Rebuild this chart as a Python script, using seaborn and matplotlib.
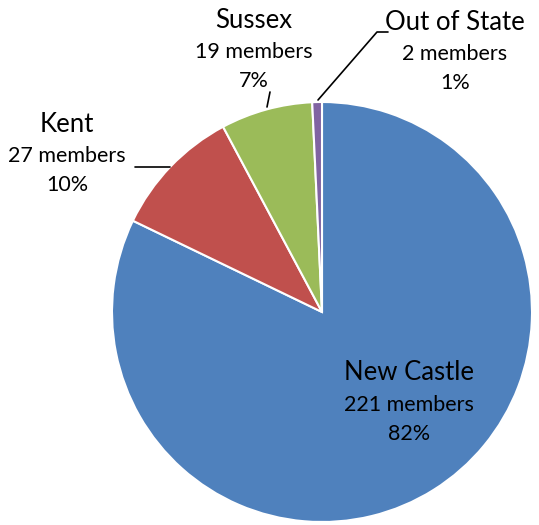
import matplotlib
matplotlib.use('Agg')
import matplotlib.pyplot as plt
import seaborn as sns

# data
regions = ['New Castle', 'Kent', 'Sussex', 'Out of State']
members = [221, 27, 19, 2]
percents = ['82%', '10%', '7%', '1%']
colors = ['#4F81BD', '#C0504D', '#9BBB59', '#8064A2']

W, H = 539, 525


def main():
    sns.set_theme(style='white')
    plt.rcParams['font.family'] = ['Lato', 'DejaVu Sans']

    fig = plt.figure(figsize=(W / 100, H / 100), dpi=100)
    ax = fig.add_axes([0, 0, 1, 1])

    # pie in pixel coordinates (y flipped so top of image is H)
    cx, cy, r = 322, H - 312, 210
    ax.pie(members, colors=colors, startangle=90, counterclock=False,
           center=(cx, cy), radius=r, frame=True,
           wedgeprops=dict(edgecolor='white', linewidth=1.5))
    ax.set_xlim(0, W)
    ax.set_ylim(0, H)
    ax.set_aspect('equal')
    ax.axis('off')

    # label positions: name center (pixels from top-left)
    label_pos = {
        'New Castle': (409, 373),
        'Kent': (67, 124),
        'Sussex': (254, 20),
        'Out of State': (455, 22),
    }
    for name, n, pct in zip(regions, members, percents):
        x, y = label_pos[name]
        ax.text(x, H - y, name, fontsize=18.5, ha='center', va='center',
                color='black')
        ax.text(x, H - y - 32, '%d members' % n, fontsize=15.5,
                ha='center', va='center', color='black')
        ax.text(x, H - y - 61, pct, fontsize=15.5, ha='center',
                va='center', color='black')

    # leader lines
    leaders = [
        [(135, 167), (170, 167)],
        [(270, 92), (267, 107)],
        [(318, 100), (377, 32), (388, 32)],
    ]
    for pts in leaders:
        xs = [p[0] for p in pts]
        ys = [H - p[1] for p in pts]
        ax.plot(xs, ys, color='black', linewidth=1.2)

    fig.savefig('out.png', dpi=100)


if __name__ == '__main__':
    main()
